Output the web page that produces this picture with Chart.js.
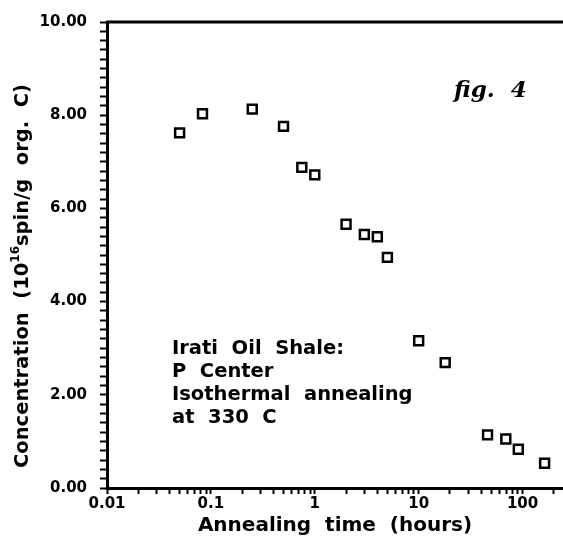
<!DOCTYPE html>
<html>
<head>
<meta charset="utf-8">
<script src="https://cdn.jsdelivr.net/npm/chart.js@4/dist/chart.umd.min.js"></script>
<style>
  html, body { margin: 0; padding: 0; background: #fff; }
  #c { display: block; }
</style>
</head>
<body>
<canvas id="c" width="563" height="542"></canvas>
<script>
// ---- data ----
const annealingHours = [0.05, 0.083, 0.25, 0.5, 0.75, 1, 2, 3, 4, 5, 10, 18, 46, 69, 91, 163];
const concentration  = [7.62, 8.03, 8.13, 7.76, 6.88, 6.72, 5.66, 5.44, 5.39, 4.95, 3.16, 2.69, 1.14, 1.05, 0.83, 0.53];
const xTickLabels = ['0.01', '0.1', '1', '10', '100'];
const yTickLabels = ['0.00', '2.00', '4.00', '6.00', '8.00', '10.00'];
const annotationLines = ['Irati  Oil  Shale:', 'P  Center', 'Isothermal  annealing', 'at  330  C'];
const figLabel = 'fig.  4';
const yTitleParts = ['Concentration  (10', '16', 'spin/g  org.  C)'];
const xTitle = 'Annealing  time  (hours)';

const FONT = "'DejaVu Sans', sans-serif";

const points = annealingHours.map((t, i) => ({ x: t, y: concentration[i] }));

const decorPlugin = {
  id: 'decor',
  afterDraw(chart) {
    const ctx = chart.ctx;
    const a = chart.chartArea;
    ctx.save();
    // top frame line
    ctx.strokeStyle = '#000';
    ctx.lineWidth = 3;
    ctx.beginPath();
    ctx.moveTo(a.left - 1, a.top);
    ctx.lineTo(a.right, a.top);
    ctx.stroke();

    // annotation text
    ctx.fillStyle = '#000';
    ctx.font = "bold 19.5px " + FONT;
    ctx.textAlign = 'left';
    ctx.textBaseline = 'middle';
    annotationLines.forEach((s, i) => {
      ctx.fillText(s, a.left + 65, a.top + 327 + i * 23);
    });

    // fig. 4
    ctx.font = "italic bold 23px 'DejaVu Serif', serif";
    ctx.textBaseline = 'alphabetic';
    ctx.fillText(figLabel, a.left + 347, a.top + 75);

    // rotated y title with superscript
    const big = "bold 19.5px " + FONT;
    const small = "bold 12px " + FONT;
    ctx.font = big;
    const w0 = ctx.measureText(yTitleParts[0]).width;
    const w2 = ctx.measureText(yTitleParts[2]).width;
    ctx.font = small;
    const w1 = ctx.measureText(yTitleParts[1]).width;
    const total = w0 + w1 + w2;
    ctx.translate(23, 276);
    ctx.rotate(-Math.PI / 2);
    ctx.textBaseline = 'middle';
    let x = -total / 2;
    ctx.font = big;
    ctx.fillText(yTitleParts[0], x, 0);
    x += w0;
    ctx.font = small;
    ctx.fillText(yTitleParts[1], x, -7);
    x += w1;
    ctx.font = big;
    ctx.fillText(yTitleParts[2], x, 0);
    ctx.restore();
  }
};

new Chart(document.getElementById('c'), {
  type: 'scatter',
  data: {
    datasets: [{
      data: points,
      pointStyle: 'rect',
      pointRadius: 6.3,
      pointBorderWidth: 2.5,
      borderColor: '#000',
      backgroundColor: 'rgba(255,255,255,0)',
      pointHoverRadius: 6.3,
      clip: false
    }]
  },
  options: {
    responsive: false,
    animation: false,
    devicePixelRatio: 1,
    layout: { autoPadding: false, padding: { top: 22, right: 0, left: 0, bottom: 0 } },
    plugins: { legend: { display: false }, tooltip: { enabled: false } },
    scales: {
      x: {
        type: 'logarithmic',
        min: 0.01,
        max: 245,
        afterFit(s) { s.height = 54; },
        afterBuildTicks(s) {
          s.ticks = s.ticks.filter(t => {
            const e = Math.floor(Math.log10(t.value) + 1e-9);
            const m = t.value / Math.pow(10, e);
            return Math.abs(m - Math.round(m)) < 1e-6 && t.value <= 245;
          });
        },
        border: { display: true, color: '#000', width: 3 },
        grid: { drawOnChartArea: false, drawTicks: true, tickLength: 6, tickColor: '#000', tickWidth: 2 },
        ticks: {
          autoSkip: false,
          maxRotation: 0,
          padding: 1,
          color: '#000',
          font: { family: FONT, size: 15, weight: 'bold' },
          callback(v) {
            const e = Math.log10(v);
            if (Math.abs(e - Math.round(e)) < 1e-6) {
              const idx = Math.round(e) + 2;
              return xTickLabels[idx] !== undefined ? xTickLabels[idx] : '';
            }
            return '';
          }
        },
        title: {
          display: true,
          text: xTitle,
          color: '#000',
          font: { family: FONT, size: 20, weight: 'bold' },
          padding: { top: 0, bottom: 4 }
        }
      },
      y: {
        min: 0,
        max: 10,
        afterFit(s) { s.width = 107; },
        border: { display: true, color: '#000', width: 3 },
        grid: { drawOnChartArea: false, drawTicks: true, tickLength: 7, tickColor: '#000', tickWidth: 2 },
        ticks: {
          stepSize: 0.2,
          autoSkip: false,
          padding: 13,
          color: '#000',
          font: { family: FONT, size: 15, weight: 'bold' },
          callback(v) {
            const r = Math.round(v);
            if (Math.abs(v - r) < 1e-6 && r % 2 === 0) {
              return yTickLabels[r / 2];
            }
            return '';
          }
        }
      }
    }
  },
  plugins: [decorPlugin]
});
</script>
</body>
</html>
